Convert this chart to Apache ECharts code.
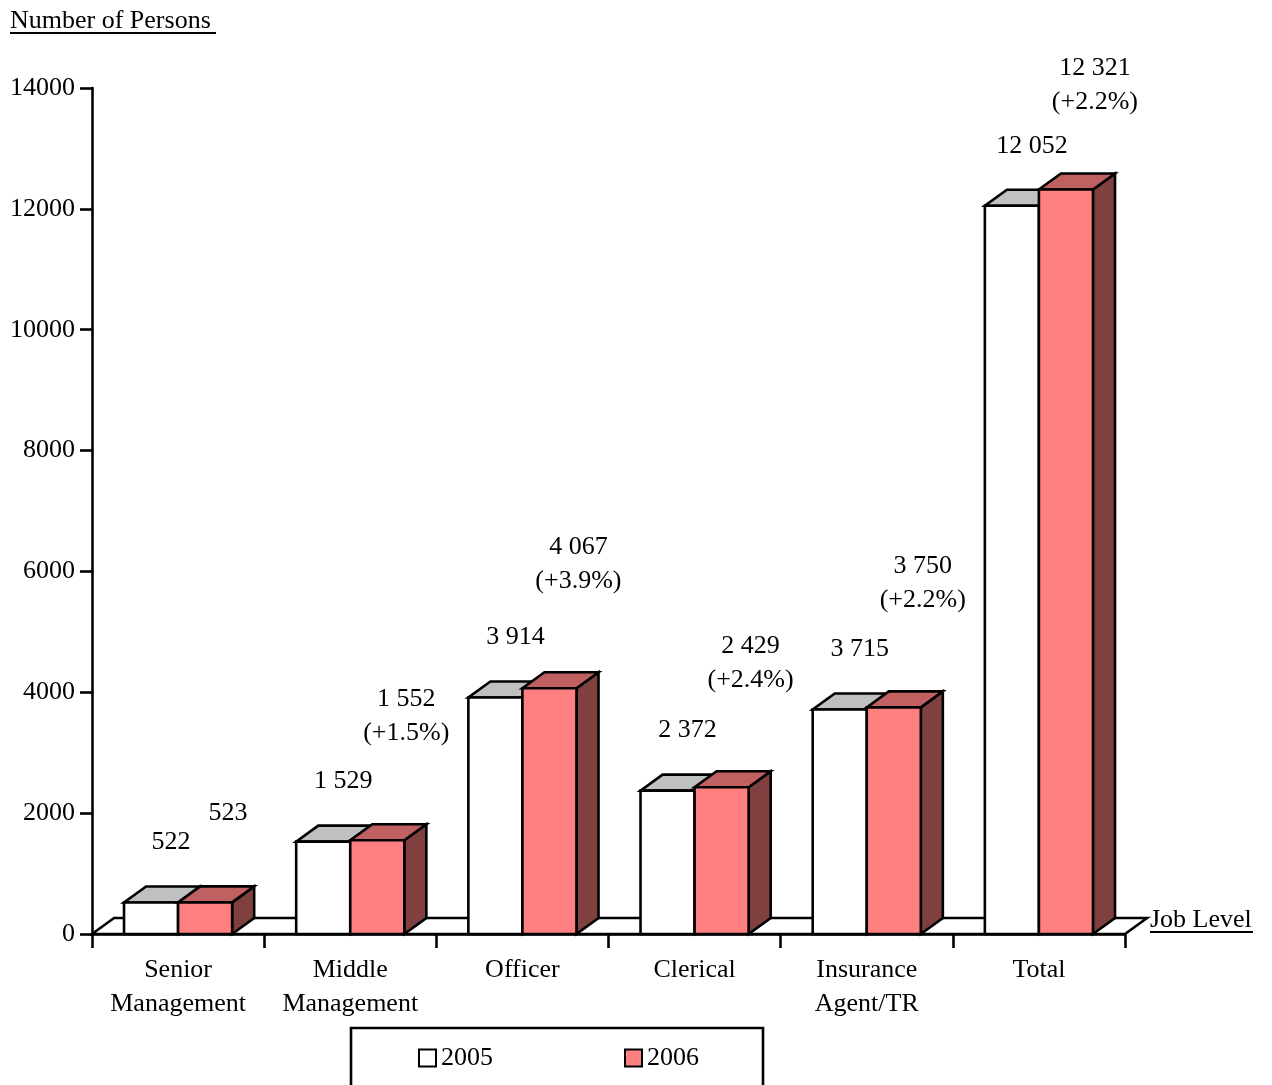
<!DOCTYPE html>
<html>
<head>
<meta charset="utf-8">
<script src="https://cdn.jsdelivr.net/npm/echarts@6/dist/echarts.min.js"></script>
<style>html,body{margin:0;padding:0;background:#fff;}#chart{width:1272px;height:1085px;}</style>
</head>
<body>
<div id="chart"></div>
<script>
// ---- data ----
const categories = ['Senior\nManagement', 'Middle\nManagement', 'Officer', 'Clerical', 'Insurance\nAgent/TR', 'Total'];
const values2005 = [522, 1529, 3914, 2372, 3715, 12052];
const values2006 = [523, 1552, 4067, 2429, 3750, 12321];
const changeLabels = ['', '+1.5%', '+3.9%', '+2.4%', '+2.2%', '+2.2%'];
const yTicks = { min: 0, max: 14000, interval: 2000 };

const FONT = '"Liberation Serif", "Times New Roman", serif';
const FS = 26;
const GRID = { left: 92, top: 88, width: 1033, height: 846 };
const LW = 2.6;

function fmt(n) { return String(n).replace(/\B(?=(\d{3})+(?!\d))/g, ' '); }

function textEl(str, x, y) {
  return {
    type: 'text',
    style: {
      text: str, x: x, y: y,
      fill: '#000',
      fontSize: FS, fontFamily: FONT,
      align: 'center', verticalAlign: 'middle',
      textAlign: 'center', textVerticalAlign: 'middle'
    }
  };
}

function barRenderer(which, front, top, side) {
  return function (params, api) {
    const i = api.value(0), v = api.value(1);
    const p = api.coord([i, v]);
    const cx = p[0], yt = p[1];
    const base = api.coord([i, 0])[1];
    const bw = api.size([1, 0])[0];
    const w = bw * 0.314, dx = bw * 0.128, dy = bw * 0.093;
    const x0 = which === 0 ? cx - w : cx;
    const x1 = x0 + w;
    const ls = { stroke: '#000', lineWidth: LW, lineJoin: 'miter' };
    const children = [
      { type: 'polygon', shape: { points: [[x1, yt], [x1 + dx, yt - dy], [x1 + dx, base - dy], [x1, base]] },
        style: Object.assign({ fill: side }, ls) },
      { type: 'polygon', shape: { points: [[x0, yt], [x1, yt], [x1 + dx, yt - dy], [x0 + dx, yt - dy]] },
        style: Object.assign({ fill: top }, ls) },
      { type: 'rect', shape: { x: x0, y: yt, width: w, height: base - yt },
        style: Object.assign({ fill: front }, ls) }
    ];
    const topLimit = params.coordSys.y - 20;
    if (which === 0) {
      children.push(textEl(fmt(v), cx - 7, Math.max(yt - 60, topLimit)));
    } else {
      const pct = changeLabels[i];
      if (pct) {
        const vy = Math.max(yt - 141, topLimit);
        children.push(textEl(fmt(v), cx + 56, vy));
        children.push(textEl('(' + pct + ')', cx + 56, vy + 34));
      } else {
        children.push(textEl(fmt(v), cx + 50, yt - 89));
      }
    }
    return { type: 'group', children: children };
  };
}

const chart = echarts.init(document.getElementById('chart'));
chart.setOption({
  animation: false,
  backgroundColor: '#fff',
  textStyle: { fontFamily: FONT },
  grid: Object.assign({ containLabel: false }, GRID),
  xAxis: {
    type: 'category',
    data: categories,
    boundaryGap: true,
    axisLine: { show: true, lineStyle: { color: '#000', width: LW } },
    axisTick: { show: true, length: 14, interval: 0, alignWithLabel: false, lineStyle: { color: '#000', width: LW } },
    axisLabel: { interval: 0, color: '#000', fontSize: FS, fontFamily: FONT, lineHeight: 34, margin: 19 },
    splitLine: { show: false }
  },
  yAxis: {
    type: 'value',
    min: yTicks.min, max: yTicks.max, interval: yTicks.interval,
    axisLine: { show: true, lineStyle: { color: '#000', width: LW } },
    axisTick: { show: true, length: 12, lineStyle: { color: '#000', width: LW } },
    axisLabel: { color: '#000', fontSize: FS, fontFamily: FONT, margin: 17, formatter: function (v) { return String(v); } },
    splitLine: { show: false }
  },
  legend: {
    left: 351, top: 1028,
    data: [
      { name: '2005', icon: 'rect', itemStyle: { color: '#fff', borderColor: '#000', borderWidth: 2 } },
      { name: '2006', icon: 'rect', itemStyle: { color: '#ff8080', borderColor: '#000', borderWidth: 2 } }
    ],
    itemWidth: 17, itemHeight: 17, itemGap: 131,
    padding: [17, 64, 40, 67],
    borderColor: '#000', borderWidth: LW,
    textStyle: { color: '#000', fontSize: FS, fontFamily: FONT, padding: [0, 0, 0, 0] }
  },
  graphic: [
    { type: 'text', x: 10, y: 21, style: { text: 'Number of Persons', fill: '#000', fontSize: FS, fontFamily: FONT, textVerticalAlign: 'middle', verticalAlign: 'middle' } },
    { type: 'line', shape: { x1: 10, y1: 33, x2: 216, y2: 33 }, style: { stroke: '#000', lineWidth: 2 } },
    { type: 'text', x: 1150, y: 920, style: { text: 'Job Level', fill: '#000', fontSize: FS, fontFamily: FONT, textVerticalAlign: 'middle', verticalAlign: 'middle' } },
    { type: 'line', shape: { x1: 1150, y1: 932, x2: 1253, y2: 932 }, style: { stroke: '#000', lineWidth: 2 } }
  ],
  series: [
    {
      name: 'floor', type: 'custom', z: 1, silent: true,
      data: [[0, 0]],
      renderItem: function (params, api) {
        const cs = params.coordSys;
        const base = api.coord([0, 0])[1];
        const bw = api.size([1, 0])[0];
        const dx = bw * 0.128, dy = bw * 0.093;
        const xl = cs.x, xr = cs.x + cs.width;
        return {
          type: 'polygon',
          shape: { points: [[xl, base], [xl + dx, base - dy], [xr + dx, base - dy], [xr, base]] },
          style: { fill: '#fff', stroke: '#000', lineWidth: LW }
        };
      }
    },
    {
      name: '2005', type: 'custom', z: 2,
      itemStyle: { color: '#fff', borderColor: '#000', borderWidth: 2 },
      encode: { x: 0, y: 1 },
      data: values2005.map((v, i) => [i, v]),
      renderItem: barRenderer(0, '#ffffff', '#c0c0c0', '#808080')
    },
    {
      name: '2006', type: 'custom', z: 3,
      itemStyle: { color: '#ff8080', borderColor: '#000', borderWidth: 2 },
      encode: { x: 0, y: 1 },
      data: values2006.map((v, i) => [i, v]),
      renderItem: barRenderer(1, '#ff8080', '#c06060', '#804040')
    }
  ]
});
</script>
</body>
</html>
